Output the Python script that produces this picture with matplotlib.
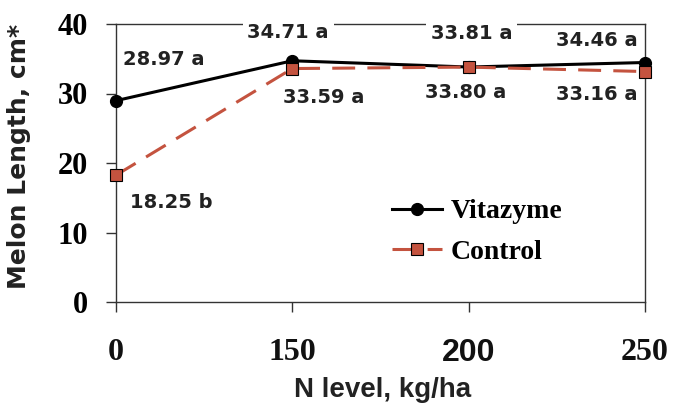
"""
Melon length vs N level: Vitazyme vs Control.
"""
import matplotlib
matplotlib.use("Agg")
import matplotlib.pyplot as plt

# data
n_levels = ["0", "150", "200", "250"]
vitazyme = [28.97, 34.71, 33.81, 34.46]
control = [18.25, 33.59, 33.80, 33.16]
vitazyme_letters = ["a", "a", "a", "a"]
control_letters = ["b", "a", "a", "a"]

# label offsets (points) from each point
vit_offsets = [(34.6, 29.5), (-3, 20.7), (2, 23.8), (-34.6, 15.5)]
ctl_offsets = [(39.6, -19.4), (22.3, -20.5), (-2, -18), (-34.6, -16.2)]

RED = "#C4533F"
SERIF = "Liberation Serif"
SANS = "Liberation Sans"

fig = plt.figure(figsize=(6.73, 4.05), dpi=100)
ax = fig.add_axes([116 / 673, 103 / 405, 529 / 673, 278 / 405])

x = list(range(len(n_levels)))
ax.plot(x, vitazyme, color="black", linewidth=2.2, marker="o", markersize=8.5,
        label="Vitazyme", clip_on=False, zorder=4)
ax.plot(x, control, color=RED, linewidth=2.2, dashes=(7.5, 4), marker="s",
        markersize=9, markerfacecolor=RED, markeredgecolor="black",
        markeredgewidth=0.8, label="Control", clip_on=False, zorder=4)

ax.set_xlim(0, 3)
ax.set_ylim(0, 40)
ax.set_yticks([0, 10, 20, 30, 40])
ax.set_xticks(x)
ax.set_xticklabels(n_levels)

for sp in ax.spines.values():
    sp.set_color("#333333")
    sp.set_linewidth(1)

ax.tick_params(axis="both", direction="out", length=7, width=1, color="#333333")
ax.tick_params(axis="y", pad=13)
ax.tick_params(axis="x", pad=19)
for lab in ax.get_yticklabels():
    lab.set_fontfamily(SERIF)
    lab.set_fontweight("bold")
    lab.set_fontsize(22)
for lab in ax.get_xticklabels():
    lab.set_fontfamily(SANS if lab.get_text() == "200" else SERIF)
    lab.set_fontweight("bold")
    lab.set_fontsize(23)
    lab.set_color("#111111")

box = dict(boxstyle="square,pad=0.25", facecolor="white", edgecolor="none")
for i in x:
    ax.annotate(f"{vitazyme[i]:.2f} {vitazyme_letters[i]}", (i, vitazyme[i]),
                xytext=vit_offsets[i], textcoords="offset points",
                ha="center", va="center", fontsize=14, fontweight="bold",
                family="DejaVu Sans", color="#222222", bbox=box,
                annotation_clip=False, zorder=5)
    ax.annotate(f"{control[i]:.2f} {control_letters[i]}", (i, control[i]),
                xytext=ctl_offsets[i], textcoords="offset points",
                ha="center", va="center", fontsize=14, fontweight="bold",
                family="DejaVu Sans", color="#222222", bbox=box,
                annotation_clip=False, zorder=5)

ax.text(-0.183, 0.525, "Melon Length, cm*", transform=ax.transAxes,
        rotation=90, ha="center", va="center", fontsize=18,
        fontweight="bold", family="DejaVu Sans", color="#222222")
ax.text(0.503, -0.342, "N level, kg/ha", transform=ax.transAxes,
        ha="center", va="baseline", fontsize=20, fontweight="bold",
        family=SANS, color="#222222")

ax.legend(loc="center left", bbox_to_anchor=(0.522, 0.252), frameon=False,
          borderpad=0, borderaxespad=0, handlelength=1.8, handletextpad=0.3,
          labelspacing=0.55, prop={"family": SERIF, "weight": "bold", "size": 20})

fig.savefig("out.png", dpi=100)
